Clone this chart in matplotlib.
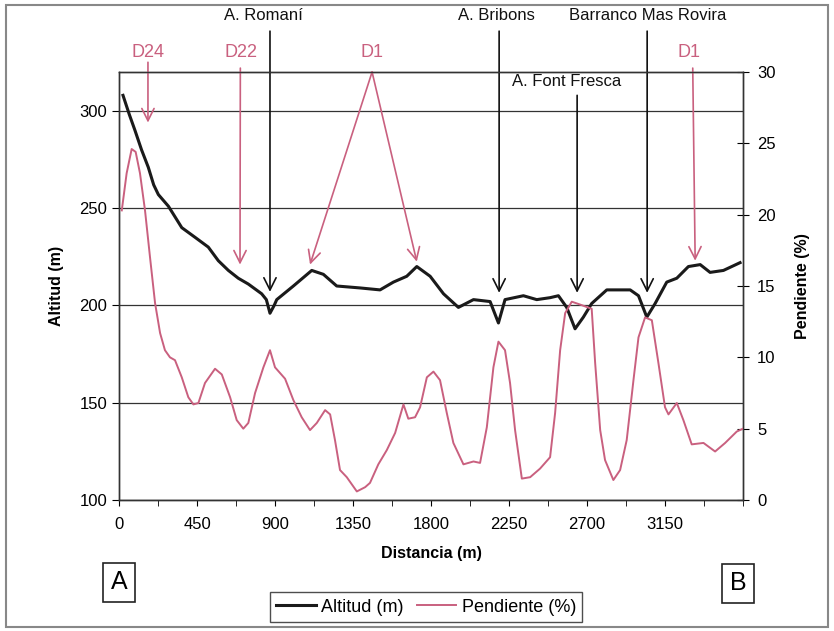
import numpy as np
import matplotlib
matplotlib.use("Agg")
import matplotlib.pyplot as plt
from matplotlib.patches import Rectangle
from matplotlib.ticker import MultipleLocator

plt.rcParams["font.family"] = ["Liberation Sans", "DejaVu Sans"]

# Altitud (m) a lo largo del perfil
alt_dist = [23, 60, 92, 130, 169, 200, 227, 285, 362, 439, 515, 573, 631, 688,
            746, 823, 850, 871, 895, 910, 1006, 1112, 1179, 1256, 1391, 1506,
            1583, 1660, 1718, 1795, 1872, 1958, 2045, 2141, 2189, 2227, 2333,
            2410, 2487, 2535, 2583, 2631, 2679, 2727, 2814, 2949, 2997, 3045,
            3093, 3160, 3218, 3285, 3353, 3410, 3487, 3583]
alt_vals = [308, 298, 290, 280, 271, 262, 257, 251, 240, 235, 230, 223, 218, 214,
            211, 206, 203, 196, 200, 203, 210, 218, 216, 210, 209, 208,
            212, 215, 220, 215, 206, 199, 203, 202, 191, 203, 205,
            203, 204, 205, 199, 188, 194, 201, 208, 208, 205, 194,
            201, 212, 214, 220, 221, 217, 218, 222]

# Pendiente (%)
slope_dist = [16, 44, 73, 96, 121, 150, 179, 208, 237, 265, 294, 323, 362, 400,
              429, 458, 496, 554, 593, 641, 679, 717, 746, 785, 833, 871, 900,
              929, 958, 1006, 1054, 1102, 1141, 1189, 1218, 1246, 1275, 1314,
              1372, 1420, 1448, 1496, 1545, 1593, 1641, 1669, 1708, 1737, 1776,
              1814, 1852, 1891, 1929, 1987, 2045, 2083, 2122, 2160, 2189, 2227,
              2256, 2285, 2324, 2372, 2429, 2487, 2516, 2545, 2574, 2612, 2660,
              2727, 2747, 2776, 2804, 2852, 2891, 2929, 2968, 2997, 3035, 3074,
              3112, 3150, 3170, 3218, 3256, 3304, 3372, 3439, 3497, 3564, 3600]
slope_vals = [20.3, 22.9, 24.6, 24.4, 22.9, 20.3, 17.0, 13.8, 11.7, 10.5, 10.0,
              9.8, 8.6, 7.2, 6.7, 6.8, 8.2, 9.2, 8.8, 7.2, 5.6, 5.0, 5.4, 7.5,
              9.3, 10.5, 9.3, 8.9, 8.5, 7.0, 5.8, 4.9, 5.4, 6.3, 6.0, 4.2, 2.1,
              1.6, 0.6, 0.9, 1.2, 2.5, 3.5, 4.7, 6.7, 5.7, 5.8, 6.5, 8.6, 9.0,
              8.4, 6.1, 4.0, 2.5, 2.7, 2.6, 5.1, 9.3, 11.1, 10.5, 8.2, 4.9, 1.5,
              1.6, 2.2, 3.0, 6.1, 10.5, 13.1, 13.9, 13.7, 13.4, 9.6, 4.9, 2.8,
              1.4, 2.1, 4.2, 8.4, 11.4, 12.8, 12.6, 9.6, 6.5, 6.0, 6.8, 5.6,
              3.9, 4.0, 3.4, 4.0, 4.8, 5.0]

x_ticks = [0, 450, 900, 1350, 1800, 2250, 2700, 3150]
alt_ticks = [100, 150, 200, 250, 300]
slope_ticks = [0, 5, 10, 15, 20, 25, 30]

# cauces (flechas negras)
stream_labels = ["A. Romaní", "A. Bribons", "Barranco Mas Rovira", "A. Font Fresca"]
stream_text_x = [830, 2175, 3052, 2585]
stream_text_y = [349, 349, 349, 315]
stream_start_y = [341, 341, 341, 308]
stream_tip_x = [871, 2193, 3047, 2643]
stream_tip_y = [207, 206.5, 206.5, 206.5]

# diques (flechas rosas)
dike_labels = ["D24", "D22", "D1", "D1"]
dike_text_x = [167, 704, 1460, 3290]
dike_arrows = [  # (x inicio, y inicio, x punta, y punta)
    [(167, 325, 167, 294)],
    [(700, 322, 698, 221)],
    [(1460, 320, 1102, 221), (1460, 320, 1718, 222.5)],
    [(3310, 322, 3324, 223)],
]

pink = "#C9607F"

fig = plt.figure(figsize=(8.34, 6.31), dpi=100)
ax = fig.add_axes([0.1427, 0.2076, 0.7482, 0.6783])
ax2 = ax.twinx()

ax.plot(alt_dist, alt_vals, color="#1a1a1a", lw=2.2, label="Altitud (m)", zorder=3)
ax2.plot(slope_dist, slope_vals, color=pink, lw=1.4, label="Pendiente (%)", zorder=3)

ax.set_xlim(0, 3600)
ax.set_ylim(100, 320)
ax2.set_ylim(0, 30)
ax.set_xticks(x_ticks)
ax.xaxis.set_minor_locator(MultipleLocator(225))
ax.set_yticks(alt_ticks)
ax2.set_yticks(slope_ticks)
ax.grid(axis="y", color="#333333", lw=0.9)

ax.tick_params(axis="x", which="both", direction="out", length=4, labelsize=12, pad=8)
ax.tick_params(axis="y", direction="out", length=5, labelsize=12)
ax2.tick_params(axis="y", direction="inout", length=8, labelsize=12, pad=6)
for a in (ax, ax2):
    for s in a.spines.values():
        s.set_color("#333333")
        s.set_linewidth(1.0)

ax.set_xlabel("Distancia (m)", fontsize=11.5, fontweight="bold", labelpad=10)
ax.set_ylabel("Altitud (m)", fontsize=11.5, fontweight="bold", labelpad=11)
ax2.set_ylabel("Pendiente (%)", fontsize=11.5, fontweight="bold", labelpad=14)

for lab, tx, ty, sy, px, py in zip(stream_labels, stream_text_x, stream_text_y,
                                   stream_start_y, stream_tip_x, stream_tip_y):
    ax.text(tx, ty, lab, ha="center", va="center", fontsize=12, color="#111111",
            clip_on=False, zorder=5)
    ax.annotate("", xy=(px, py), xytext=(px, sy), annotation_clip=False,
                arrowprops=dict(arrowstyle="->", color="#111111", lw=1.2,
                                mutation_scale=22, shrinkA=0, shrinkB=0), zorder=4)

for lab, tx, arrows in zip(dike_labels, dike_text_x, dike_arrows):
    ax.text(tx, 330, lab, ha="center", va="center", fontsize=13, color=pink,
            clip_on=False, zorder=5)
    for x0, y0, x1, y1 in arrows:
        ax.annotate("", xy=(x1, y1), xytext=(x0, y0), annotation_clip=False,
                    arrowprops=dict(arrowstyle="->", color=pink, lw=1.2,
                                    mutation_scale=22, shrinkA=0, shrinkB=0), zorder=4)

h1, l1 = ax.get_legend_handles_labels()
h2, l2 = ax2.get_legend_handles_labels()
leg = fig.legend(h1 + h2, l1 + l2, loc="center", bbox_to_anchor=(0.511, 0.038),
                 ncol=2, fontsize=13, frameon=True, fancybox=False,
                 handlelength=2.2, handletextpad=0.3, columnspacing=0.7,
                 borderpad=0.35)
leg.get_frame().set_edgecolor("#222222")
leg.get_frame().set_linewidth(1.0)

fig.text(119 / 834, 1 - 582 / 631, "A", ha="center", va="center", fontsize=18,
         bbox=dict(boxstyle="square,pad=0.3", fc="white", ec="#222222", lw=1.2))
fig.text(738 / 834, 1 - 583 / 631, "B", ha="center", va="center", fontsize=18,
         bbox=dict(boxstyle="square,pad=0.3", fc="white", ec="#222222", lw=1.2))

fig.patches.append(Rectangle((6 / 834, 1 - 627 / 631), 822 / 834, 622 / 631,
                             transform=fig.transFigure, fill=False,
                             ec="#888888", lw=1.5))

fig.savefig("out.png", dpi=100)
